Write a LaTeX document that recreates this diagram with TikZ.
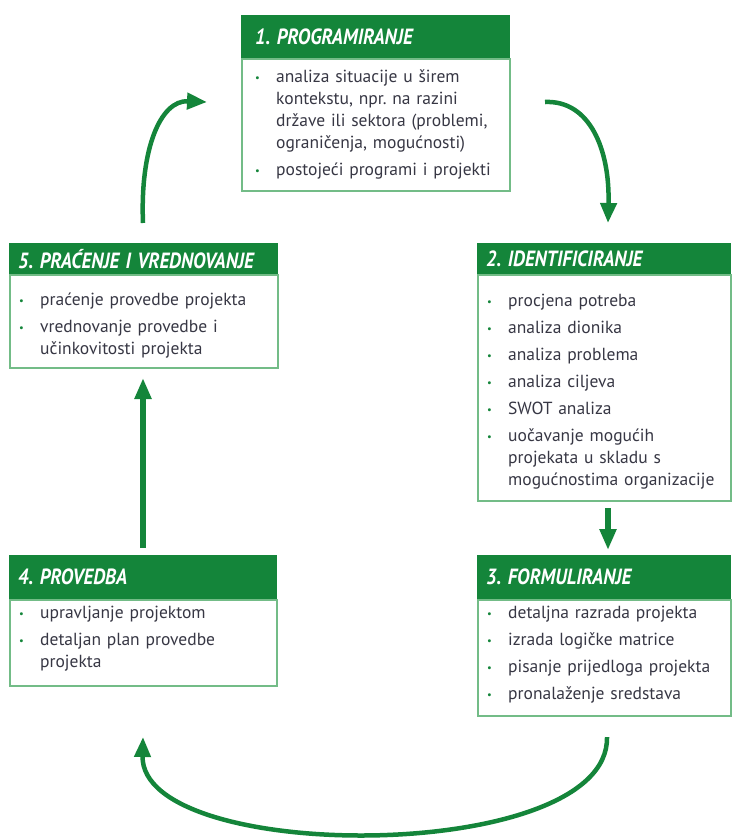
\documentclass[tikz,border=0pt]{standalone}
\usepackage{fontspec}
\setmainfont{PT Sans}
\usetikzlibrary{arrows.meta,calc}
\definecolor{pgreen}{RGB}{20,133,58}
\definecolor{lgreen}{RGB}{115,188,135}
\definecolor{txt}{RGB}{55,55,68}
\frenchspacing
\newcommand{\itm}[1]{\par\noindent\hangindent=21pt\hangafter=1\makebox[21pt][l]{\textcolor{pgreen}{\raisebox{1.5pt}{\scalebox{0.6}{\textbullet}}}}#1\par}
\newcommand{\bodyset}{\fontsize{17.5}{22}\selectfont\raggedright\setlength{\parskip}{5pt}}
\newcommand{\ttl}[1]{\scalebox{0.87}[1]{#1}}
\begin{document}
\begin{tikzpicture}[x=1pt,y=-1pt,
  hdr/.style={fill=pgreen, draw=pgreen, anchor=north west, align=left, text=white,
    inner xsep=9pt, inner ysep=0pt, font=\fontsize{22}{24}\selectfont\bfseries\itshape},
  body/.style={draw=lgreen, line width=1.6pt, fill=white, anchor=north west, inner sep=0pt},
  btext/.style={anchor=north west, inner xsep=10pt, inner ysep=0pt, text=txt, font=\bodyset},
  arr/.style={draw=pgreen, line width=4.5pt, -{Triangle[length=20pt,width=16pt]}},
  sarr/.style={draw=pgreen, line width=5.5pt, -{Triangle[length=21pt,width=16pt]}}]
\useasboundingbox (0,0) rectangle (732,838);

% Box 1
\node[hdr, text width=240pt, minimum height=43pt, inner xsep=14pt] (h1) at (241,15) {\ttl{1. PROGRAMIRANJE}};
\node[body, minimum width=268pt, minimum height=132pt] (b1) at (h1.south west) {};
\node[btext, text width=240pt, inner xsep=14pt] (t1) at ([yshift=3pt]b1.north west)
 {\itm{analiza situacije u širem\newline kontekstu, npr. na razini\newline države ili sektora (problemi,\newline ograničenja, mogućnosti)}%
  \itm{postojeći programi i projekti}};

% Box 2
\node[hdr, text width=235pt, minimum height=31pt] (h2) at (477,243) {\ttl{2. IDENTIFICIRANJE}};
\node[body, minimum width=253pt, minimum height=226pt] (b2) at (h2.south west) {};
\node[btext, text width=233pt] (t2) at ([yshift=-5pt]b2.north west)
 {\itm{procjena potreba}\itm{analiza dionika}\itm{analiza problema}\itm{analiza ciljeva}\itm{SWOT analiza}%
  \itm{uočavanje mogućih\newline projekata u skladu s\newline mogućnostima organizacije}};

% Box 3
\node[hdr, text width=235pt, minimum height=44pt] (h3) at (477,555) {\ttl{3. FORMULIRANJE}};
\node[body, minimum width=253pt, minimum height=116pt] (b3) at (h3.south west) {};
\node[btext, text width=233pt] (t3) at ([yshift=8pt]b3.north west)
 {\itm{detaljna razrada projekta}\itm{izrada logičke matrice}\itm{pisanje prijedloga projekta}\itm{pronalaženje sredstava}};

% Box 4
\node[hdr, text width=249pt, minimum height=44pt] (h4) at (9,555) {\ttl{4. PROVEDBA}};
\node[body, minimum width=267pt, minimum height=86pt] (b4) at (h4.south west) {};
\node[btext, text width=247pt] (t4) at ([yshift=8pt]b4.north west)
 {\itm{upravljanje projektom}\itm{detaljan plan provedbe\newline projekta}};

% Box 5
\node[hdr, text width=250pt, minimum height=31pt] (h5) at (9,243) {\ttl{5. PRAĆENJE I VREDNOVANJE}};
\node[body, minimum width=268pt, minimum height=93pt] (b5) at (h5.south west) {};
\node[btext, text width=248pt] (t5) at ([yshift=-4pt]b5.north west)
 {\itm{praćenje provedbe projekta}\itm{vrednovanje provedbe i\newline učinkovitosti projekta}};

% arrow end points
\coordinate (a1s) at (143,223); \coordinate (a1e) at (207,102);
\coordinate (a2s) at (545,102); \coordinate (a2e) at (608,223);
\coordinate (a3s) at (608,508); \coordinate (a3e) at (608,550);
\coordinate (a4s) at (143,548); \coordinate (a4e) at (143,378);
\coordinate (a5s) at (607,737); \coordinate (a5e) at (143,737);

\draw[arr] (a1s) .. controls (140,150) and (160,100) .. (a1e);
\draw[arr] (a2s) .. controls (590,100) and (610,150) .. (a2e);
\draw[sarr] (a3s) -- (a3e);
\draw[sarr] (a4s) -- (a4e);
\draw[arr] (a5s) .. controls (610,865) and (140,865) .. (a5e);
\end{tikzpicture}
\end{document}
